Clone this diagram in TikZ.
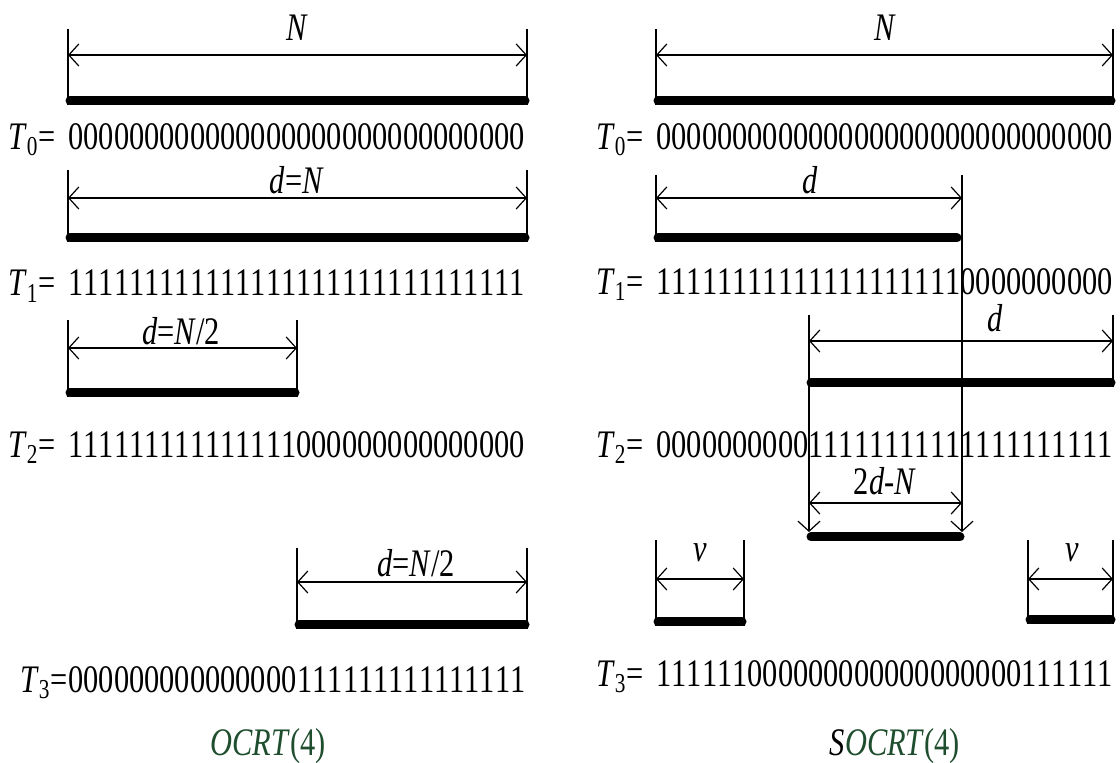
\documentclass[tikz,border=0pt]{standalone}
\usepackage{fontspec}
\setmainfont{Liberation Serif}[FakeStretch=0.78, Kerning=Off]
\usetikzlibrary{arrows.meta}
\definecolor{corLegenda}{RGB}{31, 78, 46}
\definecolor{corTraco}{RGB}{0, 0, 0}

\tikzset{
  guia/.style={draw=corTraco, line width=0.6pt},
  cota/.style={draw=corTraco, line width=0.6pt,
               {Straight Barb[length=5pt,width=11pt]}-{Straight Barb[length=5pt,width=11pt]}},
  desce/.style={draw=corTraco, line width=0.6pt, -{Straight Barb[length=5pt,width=11pt]}},
  barra/.style={draw=corTraco, line width=4.5pt, line cap=round},
  bits/.style={anchor=west, inner sep=0pt, font=\fontsize{19.5}{22}\selectfont},
  nome/.style={anchor=base east, inner sep=0pt, font=\fontsize{19.5}{22}\selectfont},
  rotulo/.style={inner sep=0pt, font=\fontsize{19.5}{22}\selectfont},
  legenda/.style={inner sep=0pt, text=corLegenda, font=\fontsize{19.5}{22}\selectfont}
}

\begin{document}
\begin{tikzpicture}[x=0.5pt, y=-0.5pt]
  \useasboundingbox (0,0) rectangle (1120,763);

  %% ================================================================
  %%  PAINEL ESQUERDO — OCRT(4)
  %% ================================================================

  % Cota N
  \coordinate (eA0) at (68,55);
  \coordinate (eA1) at (527,55);
  \draw[guia] (68,29) -- (68,105);
  \draw[guia] (527,29) -- (527,105);
  \draw[cota] (eA0) -- (eA1);
  \node[rotulo] (eAr) at (297,28) {\textit{N}};
  \draw[barra] (70,101) -- (525,101);

  \node[bits] (eT0) at (68,137) {000000000000000000000000000000};
  \node[nome] (eT0n) at ([xshift=-6pt]eT0.base west) {\textit{T}\textsubscript{0}=};

  % Cota d=N
  \coordinate (eB0) at (68,198);
  \coordinate (eB1) at (527,198);
  \draw[guia] (68,170) -- (68,242);
  \draw[guia] (527,170) -- (527,242);
  \draw[cota] (eB0) -- (eB1);
  \node[rotulo] (eBr) at (297,180) {\textit{d}=\textit{N}};
  \draw[barra] (70,238) -- (525,238);

  \node[bits] (eT1) at (68,283) {111111111111111111111111111111};
  \node[nome] (eT1n) at ([xshift=-6pt]eT1.base west) {\textit{T}\textsubscript{1}=};

  % Cota d=N/2 (primeira metade)
  \coordinate (eC0) at (68,348);
  \coordinate (eC1) at (297,348);
  \draw[guia] (68,320) -- (68,397);
  \draw[guia] (297,320) -- (297,397);
  \draw[cota] (eC0) -- (eC1);
  \node[rotulo] (eCr) at (181,331) {\textit{d}=\textit{N}/2};
  \draw[barra] (70,393) -- (295,393);

  \node[bits] (eT2) at (68,445) {111111111111111000000000000000};
  \node[nome] (eT2n) at ([xshift=-6pt]eT2.base west) {\textit{T}\textsubscript{2}=};

  % Cota d=N/2 (segunda metade)
  \coordinate (eD0) at (297,582);
  \coordinate (eD1) at (527,582);
  \draw[guia] (297,548) -- (297,629);
  \draw[guia] (527,548) -- (527,629);
  \draw[cota] (eD0) -- (eD1);
  \node[rotulo] (eDr) at (416,563) {\textit{d}=\textit{N}/2};
  \draw[barra] (299,625) -- (525,625);

  \node[bits, anchor=east] (eT3a) at (297,680) {000000000000000};
  \node[bits] (eT3b) at (297,680) {111111111111111};
  \node[nome] (eT3n) at (eT3a.base west) {\textit{T}\textsubscript{3}=};

  \node[legenda] (eLeg) at (268,746) {\textit{OCRT}(4)};

  %% ================================================================
  %%  PAINEL DIREITO — SOCRT(4)
  %% ================================================================

  % Cota N
  \coordinate (dA0) at (656,55);
  \coordinate (dA1) at (1113,55);
  \draw[guia] (656,29) -- (656,105);
  \draw[guia] (1113,29) -- (1113,105);
  \draw[cota] (dA0) -- (dA1);
  \node[rotulo] (dAr) at (885,28) {\textit{N}};
  \draw[barra] (658,101) -- (1111,101);

  \node[bits] (dT0) at (656,137) {000000000000000000000000000000};
  \node[nome] (dT0n) at ([xshift=-6pt]dT0.base west) {\textit{T}\textsubscript{0}=};

  % Cota d (prefixo) e linha longa até 2d-N
  \coordinate (dB0) at (656,198);
  \coordinate (dB1) at (962,198);
  \coordinate (dBfim) at (962,532);
  \draw[guia] (656,175) -- (656,242);
  \draw[desce] (962,175) -- (dBfim);
  \draw[cota] (dB0) -- (dB1);
  \node[rotulo] (dBr) at (810,180) {\textit{d}};
  \draw[barra] (658,238) -- (957,238);

  \node[bits] (dT1) at (656,282) {111111111111111111110000000000};
  \node[nome] (dT1n) at ([xshift=-6pt]dT1.base west) {\textit{T}\textsubscript{1}=};

  % Cota d (sufixo) e linha longa até 2d-N
  \coordinate (dC0) at (809,341);
  \coordinate (dC1) at (1113,341);
  \coordinate (dCfim) at (809,532);
  \draw[desce] (809,315) -- (dCfim);
  \draw[guia] (1113,315) -- (1113,387);
  \draw[cota] (dC0) -- (dC1);
  \node[rotulo] (dCr) at (995,318) {\textit{d}};
  \draw[barra] (811,383) -- (1111,383);

  \node[bits] (dT2) at (656,445) {000000000011111111111111111111};
  \node[nome] (dT2n) at ([xshift=-6pt]dT2.base west) {\textit{T}\textsubscript{2}=};

  % Cota 2d-N (sobreposição)
  \coordinate (dE0) at (809,503);
  \coordinate (dE1) at (962,503);
  \draw[cota] (dE0) -- (dE1);
  \node[rotulo] (dEr) at (885,481) {2\textit{d}-\textit{N}};
  \draw[barra] (811,537) -- (960,537);

  % Cotas v
  \coordinate (dF0) at (656,579);
  \coordinate (dF1) at (744,579);
  \draw[guia] (656,540) -- (656,626);
  \draw[guia] (744,540) -- (744,626);
  \draw[cota] (dF0) -- (dF1);
  \node[rotulo] (dFr) at (700,553) {\textit{v}};
  \draw[barra] (658,622) -- (742,622);

  \coordinate (dG0) at (1028,579);
  \coordinate (dG1) at (1113,579);
  \draw[guia] (1028,540) -- (1028,624);
  \draw[guia] (1113,540) -- (1113,624);
  \draw[cota] (dG0) -- (dG1);
  \node[rotulo] (dGr) at (1072,553) {\textit{v}};
  \draw[barra] (1030,620) -- (1111,620);

  \node[bits] (dT3) at (656,674) {111111000000000000000000111111};
  \node[nome] (dT3n) at ([xshift=-6pt]dT3.base west) {\textit{T}\textsubscript{3}=};

  \node[legenda] (dLeg) at (895,746) {{\color{black}\textit{S}}\textit{OCRT}(4)};

\end{tikzpicture}
\end{document}
